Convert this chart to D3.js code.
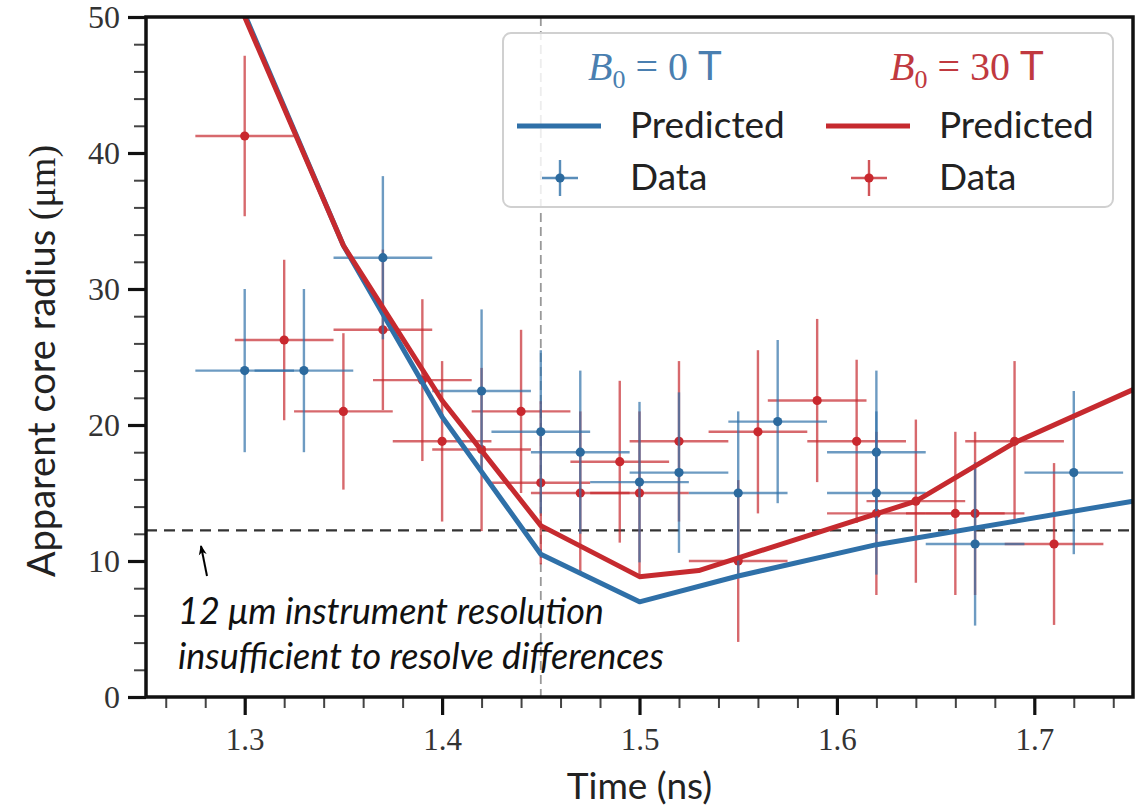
<!DOCTYPE html>
<html>
<head>
  <meta charset="utf8" />
  <style>
    body {
      margin: 0;
      background: #fff;
    }
    .tick text {
      font-family: "Liberation Serif", serif;
      font-size: 32px;
      fill: #333;
    }
    .domain {
      display: none;
    }
    .label {
      font-family: "Lato", sans-serif;
      font-size: 38px;
      fill: #222;
    }
    .note {
      font-family: "Lato", sans-serif;
      font-style: italic;
      font-size: 36px;
      fill: #111;
    }
    .leg {
      font-family: "Lato", sans-serif;
      font-size: 37px;
      fill: #222;
    }
  </style>
</head>
<body>
  <script src="https://d3js.org/d3.v7.min.js"></script>

  <script>
    // predicted core radius (um) vs time (ns)
    var predB0 = [[1.30, 50.2], [1.35, 33.2], [1.40, 20.6], [1.45, 10.5], [1.50, 7.0],
                  [1.55, 8.9], [1.62, 11.2], [1.75, 14.4]];
    var predB30 = [[1.30, 50.0], [1.35, 33.2], [1.40, 21.8], [1.45, 12.6], [1.50, 8.85],
                   [1.53, 9.3], [1.64, 14.4], [1.69, 18.7], [1.75, 22.6]];

    // measured points: time, radius, radius error
    var dataB0 = [[1.30, 24.0, 6], [1.33, 24.0, 6], [1.37, 32.3, 6], [1.42, 22.5, 6],
                  [1.45, 19.5, 6], [1.47, 18.0, 6], [1.50, 15.8, 5.9], [1.52, 16.5, 5.9],
                  [1.55, 15.0, 6], [1.57, 20.25, 6], [1.62, 18.0, 6], [1.62, 15.0, 6],
                  [1.67, 11.25, 6], [1.72, 16.5, 6]];
    var dataB30 = [[1.30, 41.25, 5.9], [1.32, 26.25, 5.9], [1.35, 21.0, 5.75], [1.37, 27.0, 5.9],
                   [1.39, 23.3, 5.95], [1.40, 18.8, 5.9], [1.42, 18.2, 6], [1.44, 21.0, 6],
                   [1.45, 15.75, 6], [1.47, 15.0, 6], [1.49, 17.3, 5.95], [1.50, 15.0, 6],
                   [1.52, 18.8, 5.9], [1.55, 10.0, 5.95], [1.56, 19.5, 6], [1.59, 21.8, 6],
                   [1.61, 18.8, 6], [1.62, 13.5, 6], [1.64, 14.4, 6], [1.66, 13.5, 6],
                   [1.67, 13.5, 6], [1.69, 18.8, 5.9], [1.71, 11.25, 5.95]];
    var xErr = 0.025;

    var xMajor = [1.3, 1.4, 1.5, 1.6, 1.7];
    var xMinor = d3.range(1.26, 1.751, 0.02);
    var yMajor = [0, 10, 20, 30, 40, 50];
    var yMinor = d3.range(0, 50.1, 2);

    var resolution = 12.25,
        cutTime = 1.45;

    var blue = "#2f70a8", red = "#c62a2f";
    var blueDot = "#2c6a9e", redDot = "#c9282e";

    var width = 1138, height = 808,
        pLeft = 146, pRight = 1133, pTop = 17, pBottom = 697;

    var x = d3.scaleLinear().domain([1.25, 1.75]).range([pLeft, pRight]);
    var y = d3.scaleLinear().domain([0, 50]).range([pBottom, pTop]);

    var svg = d3.select("body").append("svg").attr("width", width).attr("height", height);
    var defs = svg.append("defs");

    defs.append("clipPath").attr("id", "plot")
      .append("rect").attr("x", pLeft).attr("y", pTop).attr("width", pRight - pLeft).attr("height", pBottom - pTop);

    // axes
    var gx = svg.append("g").attr("transform", "translate(0," + pBottom + ")");
    gx.call(d3.axisBottom(x).tickValues(xMinor).tickSize(11).tickFormat(""))
      .selectAll("line").attr("stroke", "#444").attr("stroke-width", 2);
    var gxM = svg.append("g").attr("transform", "translate(0," + pBottom + ")");
    gxM.call(d3.axisBottom(x).tickValues(xMajor).tickSize(18).tickPadding(13).tickFormat(d3.format(".1f")))
      .selectAll("line").attr("stroke", "#111").attr("stroke-width", 3.2);
    gxM.selectAll(".tick text").style("font-size", "31px");

    var gy = svg.append("g").attr("transform", "translate(" + pLeft + ",0)");
    gy.call(d3.axisLeft(y).tickValues(yMinor).tickSize(12).tickFormat(""))
      .selectAll("line").attr("stroke", "#444").attr("stroke-width", 2);
    var gyM = svg.append("g").attr("transform", "translate(" + pLeft + ",0)");
    gyM.call(d3.axisLeft(y).tickValues(yMajor).tickSize(18).tickPadding(8).tickFormat(d3.format("d")))
      .selectAll("line").attr("stroke", "#111").attr("stroke-width", 3.2);
    gyM.selectAll(".tick text").attr("dy", "0.34em");

    var plot = svg.append("g").attr("clip-path", "url(#plot)");

    // reference lines
    plot.append("line")
      .attr("x1", x(cutTime)).attr("x2", x(cutTime)).attr("y1", pTop).attr("y2", pBottom)
      .attr("stroke", "#999").attr("stroke-width", 1.8).attr("stroke-dasharray", "9,5");
    plot.append("line")
      .attr("x1", pLeft).attr("x2", pRight).attr("y1", y(resolution)).attr("y2", y(resolution))
      .attr("stroke", "#333").attr("stroke-width", 2.2).attr("stroke-dasharray", "11,7");

    // error bars
    function errorbars(data, color, dot) {
      var g = plot.append("g");
      var pts = g.selectAll("g").data(data).enter().append("g");
      pts.append("line")
        .attr("x1", d => x(d[0] - xErr)).attr("x2", d => x(d[0] + xErr))
        .attr("y1", d => y(d[1])).attr("y2", d => y(d[1]))
        .attr("stroke", color).attr("stroke-opacity", 0.7).attr("stroke-width", 2.4);
      pts.append("line")
        .attr("x1", d => x(d[0])).attr("x2", d => x(d[0]))
        .attr("y1", d => y(d[1] - d[2])).attr("y2", d => y(d[1] + d[2]))
        .attr("stroke", color).attr("stroke-opacity", 0.7).attr("stroke-width", 2.4);
      pts.append("circle")
        .attr("cx", d => x(d[0])).attr("cy", d => y(d[1])).attr("r", 4.6)
        .attr("fill", dot);
    }
    errorbars(dataB30, red, redDot);
    errorbars(dataB0, blue, blueDot);

    // predicted lines
    var line = d3.line().x(d => x(d[0])).y(d => y(d[1]));
    plot.append("path").datum(predB0).attr("d", line)
      .attr("fill", "none").attr("stroke", blue).attr("stroke-width", 5).attr("stroke-linejoin", "round");
    plot.append("path").datum(predB30).attr("d", line)
      .attr("fill", "none").attr("stroke", red).attr("stroke-width", 5).attr("stroke-linejoin", "round");

    // frame
    svg.append("rect")
      .attr("x", pLeft).attr("y", pTop).attr("width", pRight - pLeft).attr("height", pBottom - pTop)
      .attr("fill", "none").attr("stroke", "#111").attr("stroke-width", 3.5);

    // legend
    var leg = svg.append("g");
    leg.append("rect")
      .attr("x", 503).attr("y", 33).attr("width", 610).attr("height", 174).attr("rx", 8)
      .attr("fill", "#fff").attr("fill-opacity", 0.82).attr("stroke", "#d0d0d0").attr("stroke-width", 2);

    function title(tx, val, color) {
      var t = leg.append("text").attr("x", tx).attr("y", 80).attr("fill", color)
        .style("font-family", "'Liberation Serif', serif").style("font-size", "40px");
      t.append("tspan").style("font-style", "italic").text("B");
      t.append("tspan").attr("dy", 8).style("font-size", "26px").text("0");
      t.append("tspan").attr("dy", -8).text(" = " + val + " ");
      t.append("tspan").style("font-family", "Lato, sans-serif").text("T");
    }
    title(588, 0, "#4a7fb0");
    title(890, 30, "#c0393f");

    [[517, blue, blueDot, "Predicted", "Data"], [826, red, redDot, "Predicted", "Data"]].forEach(function (c) {
      leg.append("line").attr("x1", c[0]).attr("x2", c[0] + 84).attr("y1", 126).attr("y2", 126)
        .attr("stroke", c[1]).attr("stroke-width", 5);
      leg.append("text").attr("class", "leg").attr("x", c[0] + 113).attr("y", 138).text(c[3]);
      var mx = c[0] + 43;
      leg.append("line").attr("x1", mx - 18).attr("x2", mx + 18).attr("y1", 178).attr("y2", 178)
        .attr("stroke", c[1]).attr("stroke-opacity", 0.8).attr("stroke-width", 2.4);
      leg.append("line").attr("x1", mx).attr("x2", mx).attr("y1", 160).attr("y2", 196)
        .attr("stroke", c[1]).attr("stroke-opacity", 0.8).attr("stroke-width", 2.4);
      leg.append("circle").attr("cx", mx).attr("cy", 178).attr("r", 4.6).attr("fill", c[2]);
      leg.append("text").attr("class", "leg").attr("x", c[0] + 113).attr("y", 190).text(c[4]);
    });

    // axis labels
    svg.append("text").attr("class", "label")
      .attr("x", x(1.5)).attr("y", 799).attr("text-anchor", "middle").style("font-size", "37px").text("Time (ns)");
    var yl = svg.append("text").attr("class", "label")
      .attr("transform", "translate(55," + ((pTop + pBottom) / 2 + 4) + ") rotate(-90)")
      .attr("text-anchor", "middle");
    yl.append("tspan").text("Apparent core radius ");
    yl.append("tspan").style("font-family", "'Liberation Serif', serif").text("(μm)");

    // annotation
    defs.append("marker")
      .attr("id", "arrow").attr("viewBox", "0 0 10 10").attr("refX", 9).attr("refY", 5)
      .attr("markerWidth", 5).attr("markerHeight", 5).attr("orient", "auto")
      .append("path").attr("d", "M0,1 L10,5 L0,9 L3,5 z").attr("fill", "#000");
    svg.append("line")
      .attr("x1", 207).attr("y1", 576).attr("x2", 201).attr("y2", 546)
      .attr("stroke", "#000").attr("stroke-width", 2).attr("marker-end", "url(#arrow)");
    svg.append("text").attr("class", "note").attr("x", 178).attr("y", 624)
      .text("12 μm instrument resolution");
    svg.append("text").attr("class", "note").attr("x", 178).attr("y", 669)
      .text("insufficient to resolve differences");
  </script>
</body>
</html>
